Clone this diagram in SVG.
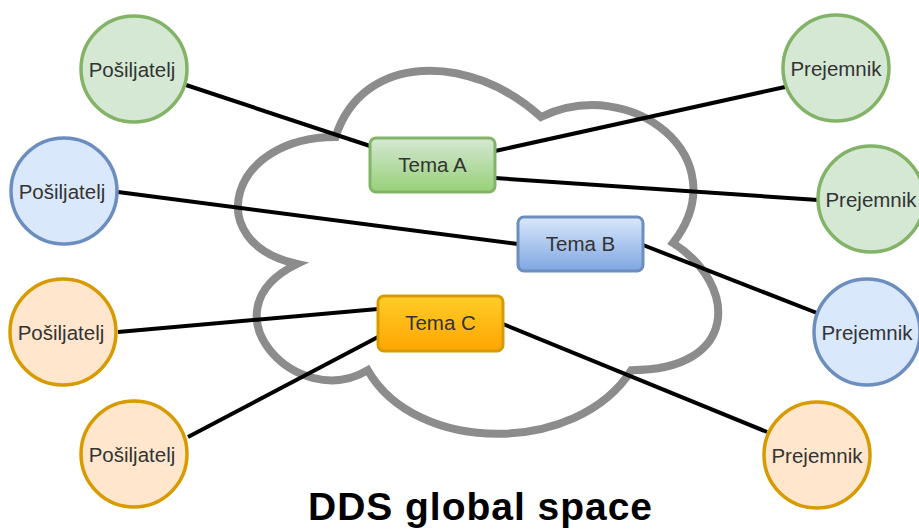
<svg xmlns="http://www.w3.org/2000/svg" width="919" height="529" viewBox="0 0 919 529">
<defs>
<linearGradient id="gA" x1="0" y1="0" x2="0" y2="1"><stop offset="0" stop-color="#d5e8d4"/><stop offset="1" stop-color="#97d077"/></linearGradient>
<linearGradient id="gB" x1="0" y1="0" x2="0" y2="1"><stop offset="0" stop-color="#dae8fc"/><stop offset="1" stop-color="#7ea6e0"/></linearGradient>
<linearGradient id="gC" x1="0" y1="0" x2="0" y2="1"><stop offset="0" stop-color="#ffcd28"/><stop offset="1" stop-color="#ffa500"/></linearGradient>
<style>
.cloud{fill:#fff;stroke:#8c8c8c;stroke-width:8}
.edge{stroke:#000;stroke-width:4;fill:none}
.g{fill:#d5e8d4;stroke:#82b366;stroke-width:3.5}
.b{fill:#dae8fc;stroke:#6c8ebf;stroke-width:3.5}
.o{fill:#ffe6cc;stroke:#d79b00;stroke-width:3.5}
.t{font-family:"Liberation Sans",Arial,sans-serif;font-size:20.5px;fill:#333;text-anchor:middle}
.title{font-family:"Liberation Sans",Arial,sans-serif;font-size:39px;font-weight:bold;fill:#000;text-anchor:middle}
</style>
</defs>
<rect width="919" height="529" fill="#fff"/>
<g id="cloud">
<path class="cloud" d="M335.5,137 C227.9,137 201,243 297,264 C201,310.8 297.8,412.6 367.8,370.2 C416.2,455 577.6,455 631.4,370.2 C739,370.2 739,285.4 673,243 C739,158.2 631.4,73.4 541,117 C470,52.2 362.4,52.2 335.5,137 Z"/>
</g>
<g id="connectors">
<line class="edge" x1="186" y1="85" x2="370" y2="146"/>
<line class="edge" x1="495" y1="151" x2="785" y2="87"/>
<line class="edge" x1="495" y1="178" x2="818" y2="200"/>
<line class="edge" x1="118" y1="192" x2="518" y2="244"/>
<line class="edge" x1="643" y1="245" x2="817" y2="313"/>
<line class="edge" x1="118" y1="332" x2="378" y2="309"/>
<line class="edge" x1="188" y1="437" x2="378" y2="337"/>
<line class="edge" x1="503" y1="324" x2="767" y2="432"/>
</g>
<g id="temaA"><rect x="370" y="138" width="125" height="54" rx="6" fill="url(#gA)" stroke="#82b366" stroke-width="3"/><text class="t" x="432.5" y="172">Tema A</text></g>
<g id="temaB"><rect x="518" y="217" width="125" height="54" rx="6" fill="url(#gB)" stroke="#6c8ebf" stroke-width="3"/><text class="t" x="580.5" y="251">Tema B</text></g>
<g id="temaC"><rect x="378" y="296" width="125" height="55" rx="6" fill="url(#gC)" stroke="#d79b00" stroke-width="3"/><text class="t" x="440.5" y="330">Tema C</text></g>
<g id="sendA"><circle class="g" cx="134" cy="69" r="53"/><text class="t" x="132" y="77">Pošiljatelj</text></g>
<g id="sendB"><circle class="b" cx="64" cy="191" r="53"/><text class="t" x="62" y="199">Pošiljatelj</text></g>
<g id="sendC1"><circle class="o" cx="63" cy="332" r="53"/><text class="t" x="61" y="340">Pošiljatelj</text></g>
<g id="sendC2"><circle class="o" cx="134" cy="454" r="53"/><text class="t" x="132" y="462">Pošiljatelj</text></g>
<g id="recvA1"><circle class="g" cx="836" cy="68" r="53"/><text class="t" x="836" y="76">Prejemnik</text></g>
<g id="recvA2"><circle class="g" cx="871" cy="199" r="53"/><text class="t" x="871" y="207">Prejemnik</text></g>
<g id="recvB"><circle class="b" cx="867" cy="332" r="53"/><text class="t" x="867" y="340">Prejemnik</text></g>
<g id="recvC"><circle class="o" cx="817" cy="455" r="53"/><text class="t" x="817" y="463">Prejemnik</text></g>
<g id="title"><text class="title" x="480" y="520" textLength="344">DDS global space</text></g>
</svg>
